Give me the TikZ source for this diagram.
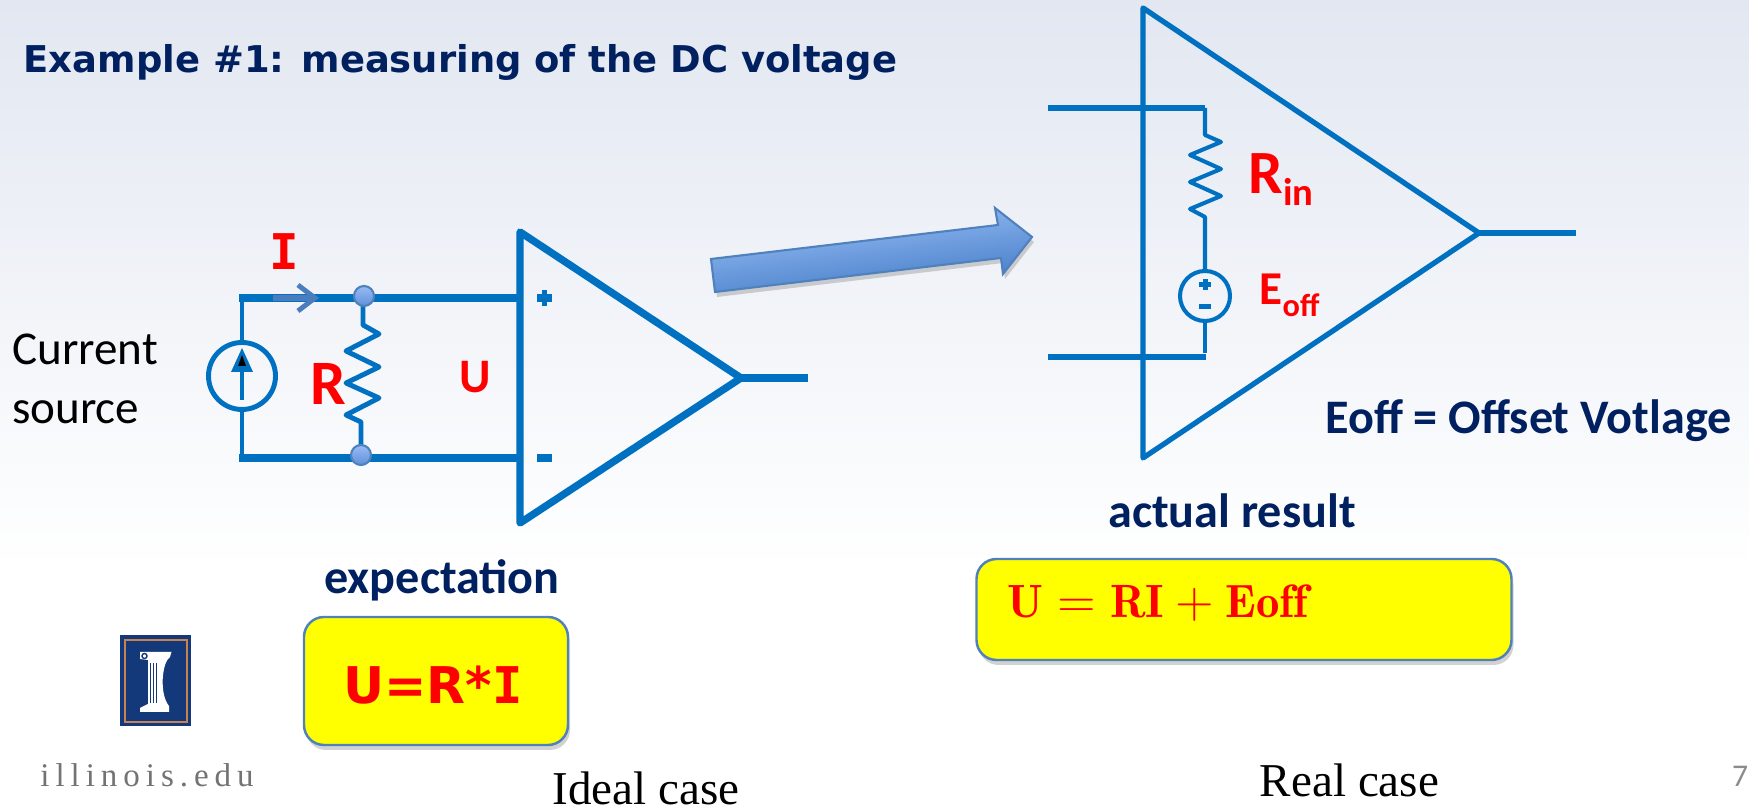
\documentclass[tikz,border=0pt]{standalone}
\usepackage{fontspec}
\usepackage{xcolor}
\usepackage{tikz}
\usetikzlibrary{arrows.meta,shadows}
\newfontfamily\calfont{Carlito}
\newfontfamily\vfont{DejaVu Sans}
\newfontfamily\vmono{DejaVu Sans Mono}
\newfontfamily\timfont{Liberation Serif}
\newfontfamily\edufont[LetterSpace=18]{Liberation Serif}
\definecolor{bgtop}{HTML}{E2E7F1}
\definecolor{wire}{HTML}{0070C0}
\definecolor{navy}{HTML}{002060}
\definecolor{edge}{HTML}{4F81BD}
\definecolor{arrowtop}{HTML}{A0C4FA}
\definecolor{arrowlow}{HTML}{3F78C4}
\definecolor{balltop}{HTML}{9ABBF5}
\definecolor{balllow}{HTML}{5F90D8}
\definecolor{smallarrow}{HTML}{4A7DBE}
\definecolor{boxfill}{HTML}{FFFF00}
\definecolor{logoblue}{HTML}{13397A}
\definecolor{logoorange}{HTML}{C8814F}
\newcommand{\lowtxt}[3]{\raisebox{#1}{\fontsize{#2}{#2}\selectfont #3}}
\tikzset{
  thickwire/.style={draw=wire, line width=2.2pt},
  thinwire/.style={draw=wire, line width=1.4pt},
  realwire/.style={draw=wire, line width=1.15pt, line join=round},
  amp/.style={draw=wire, line width=2.1pt, line join=round},
  ampreal/.style={draw=wire, line width=1.5pt, line join=round},
  joint/.style={circle, top color=balltop, bottom color=balllow, draw=edge, line width=0.6pt, minimum size=0.2cm, inner sep=0pt},
  softshadow/.style={drop shadow={shadow xshift=0.02cm, shadow yshift=-0.05cm, opacity=0.35}},
  yellowbox/.style={draw=edge, line width=0.7pt, fill=boxfill, rounded corners=0.2cm, softshadow},
  redlbl/.style={text=red, inner sep=0pt, font=\calfont\bfseries},
  navylbl/.style={text=navy, inner sep=0pt, font=\calfont\bfseries\fontsize{13.7}{16}\selectfont},
  caselbl/.style={text=black, inner sep=0pt, font=\timfont\fontsize{13.4}{16}\selectfont}
}
\begin{document}
\begin{tikzpicture}
  \useasboundingbox (0,0) rectangle (17.49,8.09);
  \fill[white] (0,0) rectangle (17.49,8.09);
  \shade[top color=bgtop, bottom color=white] (0,2.4) rectangle (17.49,8.09);

  \node (title) [text=navy, inner sep=0pt, font=\vfont\bfseries\fontsize{10.5}{13}\selectfont] at (4.605,7.47) {Example \#1: measuring of the DC voltage};

  % ideal case
  \coordinate (LT) at (2.42,5.11);
  \coordinate (LB) at (2.42,3.51);
  \coordinate (AT) at (5.20,5.77);
  \coordinate (AB) at (5.20,2.86);
  \coordinate (AO) at (7.41,4.31);
  \coordinate (S) at (2.42,4.33);

  \draw[thickwire] (2.39,5.11) -- (5.20,5.11);
  \draw[thickwire] (2.39,3.51) -- (5.20,3.51);
  \draw[thinwire] (LT) -- (2.42,4.67);
  \draw[thinwire] (2.42,3.99) -- (LB);
  \draw[thinwire] (S) circle (0.335);
  \draw[thinwire] (2.42,4.09) -- (2.42,4.45);
  \fill[wire] (2.42,4.61) -- (2.53,4.37) -- (2.31,4.37) -- cycle;
  \fill[black] (2.42,4.54) -- (2.46,4.43) -- (2.38,4.43) -- cycle;
  \draw[thinwire, line join=round] (3.63,5.11) -- (3.63,4.84) -- (3.79,4.75) -- (3.46,4.58) -- (3.79,4.42) -- (3.46,4.26) -- (3.79,4.11) -- (3.46,3.94) -- (3.61,3.87) -- (3.61,3.51);
  \draw[amp] (AT) -- (AO) -- (AB) -- cycle;
  \draw[amp] (AO) -- (8.08,4.31);
  \fill[wire] (5.37,5.07) rectangle (5.52,5.15);
  \fill[wire] (5.42,5.03) rectangle (5.47,5.19);
  \fill[wire] (5.37,3.47) rectangle (5.52,3.55);

  \draw[smallarrow, line width=1.9pt, -{Straight Barb[length=0.17cm,width=0.26cm,line width=1.4pt]}] (2.73,5.11) -- (3.19,5.11);
  \node (J1) [joint] at (3.64,5.13) {};
  \node (J2) [joint] at (3.61,3.54) {};

  \node (I) [redlbl, font=\vmono\bfseries\fontsize{14}{14}\selectfont] at (2.84,5.57) {I};
  \node (R) [redlbl, font=\calfont\bfseries\fontsize{18}{18}\selectfont] at (3.28,4.25) {R};
  \node (U) [redlbl, font=\calfont\bfseries\fontsize{13.7}{14}\selectfont] at (4.75,4.32) {U};
  \node (src) [align=left, inner sep=0pt, font=\calfont\fontsize{13.4}{16.6}\selectfont] at (0.85,4.30) {Current\\source};

  % arrow between the two
  \shade[top color=arrowtop, bottom color=arrowlow, draw=edge, line width=0.6pt, shading angle=7, softshadow]
    (7.11,5.50) -- (9.98,5.84) -- (9.95,6.01) -- (10.32,5.72) -- (10.03,5.35) -- (10.01,5.51) -- (7.15,5.17) -- cycle;

  % real case
  \coordinate (BT) at (11.43,8.01);
  \coordinate (BB) at (11.43,3.51);
  \coordinate (BO) at (14.79,5.76);
  \coordinate (E) at (12.05,5.13);

  \draw[ampreal] (BT) -- (BO) -- (BB) -- cycle;
  \draw[ampreal] (BO) -- (15.76,5.76);
  \draw[thickwire, line width=1.8pt] (10.48,7.01) -- (12.05,7.01);
  \draw[ampreal] (10.48,4.52) -- (12.06,4.52);
  \draw[realwire] (12.05,7.01) -- (12.05,6.74) -- (12.21,6.67) -- (11.90,6.54) -- (12.21,6.40) -- (11.90,6.27) -- (12.21,6.13) -- (11.90,6.00) -- (12.05,5.92) -- (12.05,5.38);
  \draw[realwire] (E) circle (0.25);
  \draw[realwire, line width=1.4pt] (12.05,4.88) -- (12.05,4.56);
  \fill[wire] (11.99,5.215) rectangle (12.11,5.265);
  \fill[wire] (12.025,5.185) rectangle (12.075,5.295);
  \fill[wire] (11.99,4.995) rectangle (12.11,5.045);

  \node (Rin) [redlbl, anchor=base west, font=\calfont\bfseries\fontsize{17.5}{18}\selectfont] at (12.48,6.15) {R\lowtxt{-0.12cm}{11}{in}};
  \node (Eoff) [redlbl, anchor=base west, font=\calfont\bfseries\fontsize{13.4}{14}\selectfont] at (12.59,5.04) {E\lowtxt{-0.12cm}{9.2}{off}};
  \node (eqn) [navylbl] at (15.285,3.88) {Eoff = Offset Votlage};

  % results
  \node (expect) [navylbl] at (4.42,2.29) {expectation};
  \node (actual) [navylbl] at (12.32,2.98) {actual result};
  \node (box1) [yellowbox, minimum width=2.64cm, minimum height=1.28cm] at (4.36,1.28) {};
  \node (box2) [yellowbox, minimum width=5.35cm, minimum height=1.01cm] at (12.44,1.995) {};
  \node (res1) [text=red, inner sep=0pt, font=\vfont\bfseries\fontsize{14.4}{15}\selectfont] at (4.33,1.24) {U=R*{\vmono I}};
  \node (res2) [text=red, inner sep=0pt, anchor=west, font=\bfseries\fontsize{13.3}{14}\selectfont] at (10.07,2.06) {$\mathbf{U = RI + Eoff}$};

  % logo
  \fill[logoblue] (1.20,0.83) rectangle (1.91,1.74);
  \draw[logoorange, line width=0.6pt] (1.25,0.87) rectangle (1.873,1.69);
  \fill[white] (1.40,1.57) -- (1.715,1.57) -- (1.70,1.52) .. controls (1.62,1.47) and (1.59,1.15) .. (1.69,1.03) -- (1.69,0.97) -- (1.40,0.97) -- (1.40,1.01) -- (1.48,1.05) -- (1.48,1.49) -- (1.40,1.50) -- cycle;
  \draw[logoblue, line width=0.3pt] (1.505,1.46) -- (1.505,1.06);
  \draw[logoblue, line width=0.3pt] (1.535,1.46) -- (1.535,1.06);
  \draw[logoblue, line width=0.3pt] (1.565,1.46) -- (1.565,1.06);
  \draw[logoblue, line width=0.4pt] (1.445,1.53) circle (0.025);
  \node (edu) [text=black!55, inner sep=0pt, font=\edufont\fontsize{9.4}{11}\selectfont] at (1.47,0.34) {illinois.edu};

  \node (ideal) [caselbl] at (6.46,0.21) {Ideal case};
  \node (real) [caselbl] at (13.495,0.29) {Real case};
  \node (page) [text=black!45, inner sep=0pt, font=\calfont\fontsize{9}{10}\selectfont] at (17.40,0.33) {7};
\end{tikzpicture}
\end{document}
